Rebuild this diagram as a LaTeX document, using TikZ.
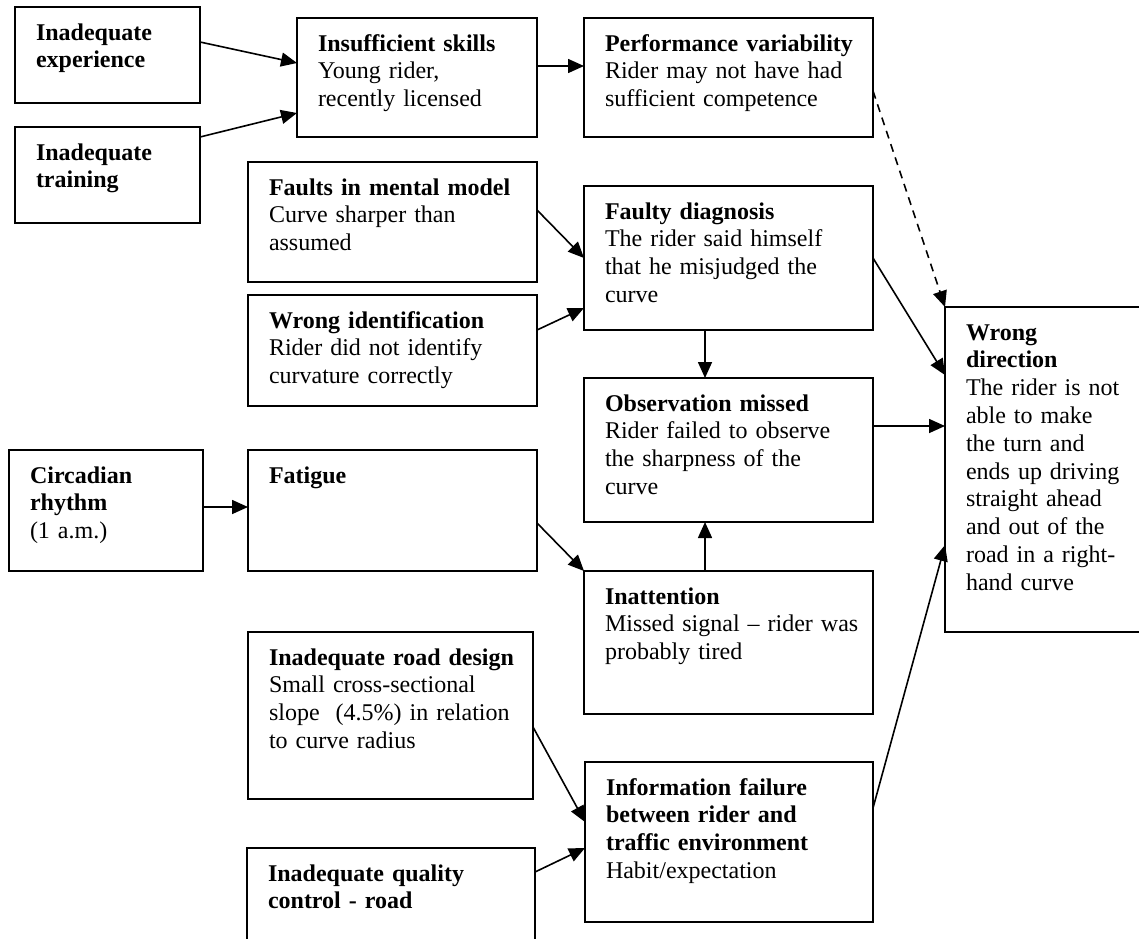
\documentclass[tikz,border=0pt]{standalone}
\usepackage{fontspec}
\setmainfont{Liberation Serif}
\usetikzlibrary{arrows.meta,calc}

\tikzset{
  box/.style={draw, line width=1.9pt, rectangle, inner sep=0pt, outer sep=0pt},
  txt/.style={anchor=north west, inner sep=0pt, outer sep=0pt, align=left,
    text width=320pt, font=\fontsize{24}{27.8}\selectfont},
  link/.style={line width=1.6pt, -{Triangle[length=16pt,width=14pt]}},
  dashlink/.style={link, dash pattern=on 8pt off 6pt}
}

% box: name, left, top, right, bottom, text
\newcommand\causebox[6]{%
  \node[box, minimum width={#4-#2}, minimum height={#5-#3}] (#1)
    at ({(#2+#4)/2},{(#3+#5)/2}) {};
  \node[txt] (#1-t) at ([xshift=21pt,yshift=-14pt]#1.north west)
    {\rule{0pt}{19pt}#6};
}

\begin{document}
\begin{tikzpicture}[x=1pt,y=-1pt]
\clip (0,0) rectangle (1139,938);
\fill[white] (0,0) rectangle (1139,938);

% left column
\causebox{exp}{15}{7}{200}{103}{\textbf{Inadequate}\\\textbf{experience}}
\causebox{train}{15}{127}{200}{223}{\textbf{Inadequate}\\\textbf{training}}
\causebox{circ}{9}{450}{203}{571}{\textbf{Circadian}\\\textbf{rhythm}\\(1 a.m.)}

% second column
\causebox{skills}{297}{18}{537}{137}{\textbf{Insufficient skills}\\Young rider,\\recently licensed}
\causebox{mental}{248}{162}{537}{282}{\textbf{Faults in mental model}\\Curve sharper than\\assumed}
\causebox{ident}{248}{295}{537}{406}{\textbf{Wrong identification}\\Rider did not identify\\curvature correctly}
\causebox{fatigue}{248}{450}{537}{571}{\textbf{Fatigue}}
\causebox{road}{248}{632}{533}{799}{\textbf{Inadequate road design}\\Small cross-sectional\\slope~ (4.5\%) in relation\\to curve radius}
\causebox{quality}{247}{848}{535}{1000}{\textbf{Inadequate quality}\\\textbf{control - road}}

% third column
\causebox{perf}{584}{18}{873}{137}{\textbf{Performance variability}\\Rider may not have had\\sufficient competence}
\causebox{diag}{584}{186}{873}{330}{\textbf{Faulty diagnosis}\\The rider said himself\\that he misjudged the\\curve}
\causebox{obs}{584}{378}{873}{522}{\textbf{Observation missed}\\Rider failed to observe\\the sharpness of the\\curve}
\causebox{inatt}{584}{571}{873}{714}{\textbf{Inattention}\\Missed signal – rider was\\probably tired}
\causebox{info}{585}{762}{873}{922}{\textbf{Information failure}\\\textbf{between rider and}\\\textbf{traffic environment}\\Habit/expectation}

% outcome
\causebox{wrong}{945}{307}{1165}{632}{\textbf{Wrong}\\\textbf{direction}\\The rider is not\\able to make\\the turn and\\ends up driving\\straight ahead\\and out of the\\road in a right-\\hand curve}

% connectors
\draw[link] ([yshift=13pt]exp.east) -- ([yshift=14.5pt]skills.west);
\draw[link] ([yshift=38pt]train.east) -- ([yshift=-35.5pt]skills.west);
\draw[link] ([yshift=11.5pt]skills.east) -- ([yshift=11.5pt]perf.west);
\draw[link] ([yshift=12pt]mental.east) -- (diag.west);
\draw[link] ([yshift=20.5pt]ident.east) -- ([yshift=-50pt]diag.west);
\draw[link] ([xshift=-23.5pt]diag.south) -- ([xshift=-23.5pt]obs.north);
\draw[link] ([xshift=-23.5pt]inatt.north) -- ([xshift=-23.5pt]obs.south);
\draw[link] ([yshift=3.5pt]circ.east) -- ([yshift=3.5pt]fatigue.west);
\draw[link] ([yshift=-12.5pt]fatigue.east) -- (inatt.north west);
\draw[link] ([yshift=-11.5pt]road.east) -- ([yshift=20pt]info.west);
\draw[link] ([yshift=-24pt]quality.north east) -- ([yshift=-6pt]info.west);
\draw[dashlink] ([yshift=-13.5pt]perf.east) -- (wrong.north west);
\draw[link] (diag.east) -- ([yshift=-68pt]wrong.north west);
\draw[link] ([yshift=24pt]obs.east) -- ([yshift=-119pt]wrong.north west);
\draw[link] ([yshift=34pt]info.east) -- ([yshift=-238pt]wrong.north west);
\end{tikzpicture}
\end{document}
